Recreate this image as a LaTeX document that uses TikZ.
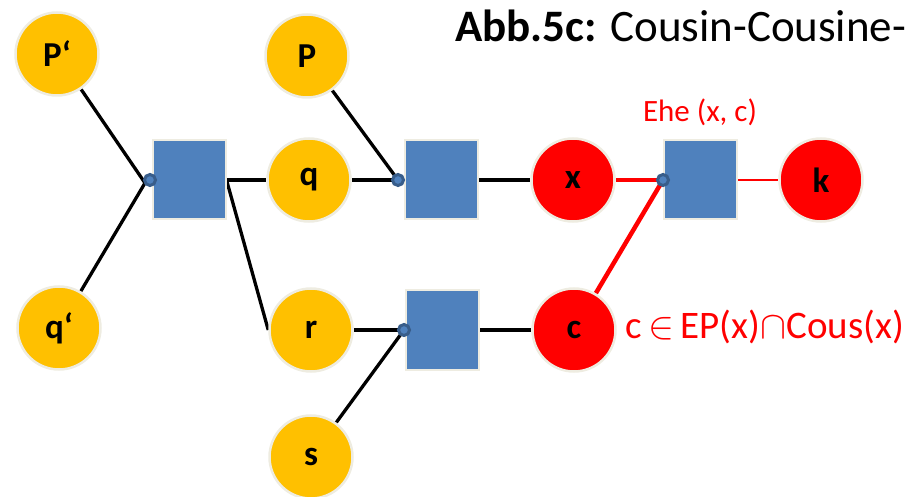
\RequirePackage{fix-cm}
\documentclass[tikz,border=0pt]{standalone}
\usepackage{fontspec}
\setmainfont{Carlito}
\usetikzlibrary{backgrounds}
\definecolor{gold}{HTML}{FFC000}
\definecolor{hot}{HTML}{FF0000}
\definecolor{boxblue}{HTML}{4F81BD}
\definecolor{rim}{HTML}{EEECE1}
\definecolor{dotrim}{HTML}{385D8A}
\begin{document}
\begin{tikzpicture}[x=1pt,y=-1pt,
  person/.style={circle, minimum size=83pt, inner sep=0pt, draw=rim, line width=2.5pt,
    fill=gold, font=\fontsize{35}{35}\selectfont\bfseries},
  redperson/.style={person, fill=hot},
  relbox/.style={rectangle, minimum width=73pt, minimum height=79pt, inner sep=0pt,
    fill=boxblue, draw=rim, line width=2pt},
  port/.style={circle, minimum size=11pt, inner sep=0pt, fill=boxblue, draw=dotrim, line width=3pt},
  link/.style={line width=3.3pt, black},
  redlink/.style={line width=4.5pt, hot},
  thinred/.style={line width=2.8pt, hot},
  redtext/.style={text=hot, inner sep=0pt}]
\useasboundingbox (0,0) rectangle (911,497);

% persons
\node[person] (Pp) at (57,54) {P‘};
\node[person] (P) at (307,56) {P};
\node[person] (q) at (309,180) {q};
\node[person] (qp) at (59,328) {q‘};
\node[person] (r) at (311,330) {r};
\node[person] (s) at (311,457) {s};
\node[redperson] (x) at (573,180) {x};
\node[redperson] (c) at (574,330) {c};
\node[redperson] (k) at (821,180) {k};

% relation boxes
\node[relbox] (s1) at (189,180) {};
\node[relbox] (s2) at (441,180) {};
\node[relbox] (s3) at (700,180) {};
\node[relbox] (s4) at (442,330) {};

% input ports
\node[port] (d1) at (150,180) {};
\node[port] (d2) at (398,180) {};
\node[port] (d3) at (663,180) {};
\node[port] (d4) at (404,330) {};
\coordinate (j1) at (145,183);

% connectors
\begin{pgfonlayer}{background}
  \draw[link] (Pp) -- (j1);
  \draw[link] (qp) -- (j1);
  \draw[link] (s1.east) -- (q);
  \draw[link] (s1.east) -- (r.west);
  \draw[link] (q) -- (d2.center);
  \draw[link] (P) -- (d2.center);
  \draw[link] (s2.east) -- (x);
  \draw[link] (r) -- (d4.center);
  \draw[link] (s) -- (d4.center);
  \draw[link] (s4.east) -- (c.west);
  \draw[redlink] (x) -- (d3.center);
  \draw[redlink] (c) -- (d3.center);
  \draw[thinred] (s3.east) -- (k);
\end{pgfonlayer}

% texts
\node[anchor=base west, inner sep=0pt, font=\fontsize{45}{45}\selectfont] (title) at (455,42)
  {\textbf{Abb.5c:} Cousin-Cousine-};
\node[redtext, font=\fontsize{31}{31}\selectfont] (ehe) at (700,112) {Ehe (x, c)};
\node[redtext, anchor=base west, font=\fontsize{39}{39}\selectfont] (cond) at (625,338)
  {c\,$\in$\,EP(x)$\cap$Cous(x)};
\end{tikzpicture}
\end{document}
